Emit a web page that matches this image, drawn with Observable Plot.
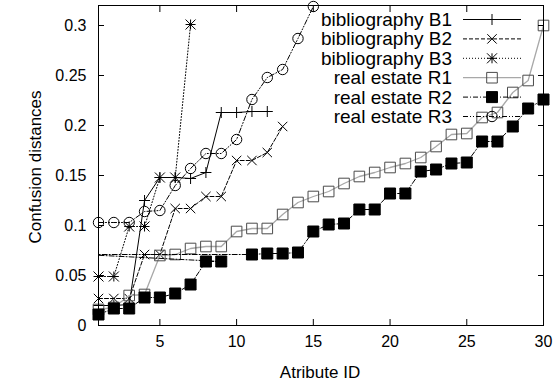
<!DOCTYPE html>
<html>
<head>
<meta charset="utf-8">
<script src="https://cdn.jsdelivr.net/npm/d3@7"></script>
<script src="https://cdn.jsdelivr.net/npm/@observablehq/plot@0.6"></script>
<style>
  body { margin: 0; background: #fff; }
  #chart svg { display: block; }
</style>
</head>
<body>
<div id="chart"></div>
<script>
// Tick values
const xTicks = [5, 10, 15, 20, 25, 30];
const yTicks = [0, 0.05, 0.1, 0.15, 0.2, 0.25, 0.3];

// Bibliography series: attribute ID -> confusion distance
const b1Ids = [1, 2, 3, 4, 5, 6, 7, 8, 9, 10, 11, 12];
const b1Values = [0.020, 0.020, 0.021, 0.125, 0.148, 0.148, 0.147, 0.153, 0.213, 0.213, 0.214, 0.214];

const b2Ids = [1, 2, 3, 4, 5, 6, 7, 8, 9, 10, 11, 12, 13];
const b2Values = [0.027, 0.027, 0.027, 0.071, 0.071, 0.117, 0.117, 0.129, 0.129, 0.165, 0.165, 0.173, 0.199];

const b3Ids = [1, 2, 3, 4, 5, 6, 7];
const b3Values = [0.049, 0.049, 0.099, 0.099, 0.148, 0.148, 0.301];

// Real estate series
const r1Ids = [1, 2, 3, 4, 5, 6, 7, 8, 9, 10, 11, 12, 13, 14, 15, 16, 17, 18, 19, 20, 21, 22, 23, 24, 25, 26, 27, 28, 29, 30];
const r1Values = [0.016, 0.018, 0.030, 0.031, 0.070, 0.071, 0.077, 0.079, 0.079, 0.094, 0.097, 0.097, 0.111, 0.123, 0.129,
                  0.134, 0.142, 0.149, 0.153, 0.158, 0.162, 0.168, 0.179, 0.191, 0.192, 0.208, 0.213, 0.233, 0.245, 0.300];

// R2 row order as stored in its data file (one entry carries ID 0, outside the plotted range)
const r2Ids = [1, 2, 3, 4, 5, 6, 7, 8, 9, 0, 11, 12, 13, 14, 15, 16, 17, 18, 19, 20, 21, 22, 23, 24, 25, 26, 27, 28, 29, 30];
const r2Values = [0.011, 0.017, 0.017, 0.028, 0.028, 0.032, 0.041, 0.064, 0.064, 0.071, 0.071, 0.072, 0.072, 0.073, 0.094,
                  0.101, 0.102, 0.116, 0.116, 0.132, 0.132, 0.154, 0.156, 0.162, 0.163, 0.184, 0.184, 0.199, 0.217, 0.226];

const r3Ids = [1, 2, 3, 4, 5, 6, 7, 8, 9, 10, 11, 12, 13, 14, 15];
const r3Values = [0.103, 0.103, 0.103, 0.114, 0.115, 0.140, 0.157, 0.172, 0.172, 0.186, 0.226, 0.248, 0.256, 0.287, 0.319];

// gnuplot-like point symbols; r is the half extent
const rOf = (size) => Math.sqrt(size / Math.PI);
const symPlus = { draw(c, s) { const r = rOf(s); c.moveTo(-r, 0); c.lineTo(r, 0); c.moveTo(0, -r); c.lineTo(0, r); } };
const symTimes = { draw(c, s) { const r = rOf(s); c.moveTo(-r, -r); c.lineTo(r, r); c.moveTo(-r, r); c.lineTo(r, -r); } };
const symStar = { draw(c, s) { const r = rOf(s); c.moveTo(-r, 0); c.lineTo(r, 0); c.moveTo(0, -r); c.lineTo(0, r);
                               c.moveTo(-r, -r); c.lineTo(r, r); c.moveTo(-r, r); c.lineTo(r, -r); } };
const symSquare = { draw(c, s) { const r = rOf(s); c.rect(-r, -r, 2 * r, 2 * r); } };
const symCircle = { draw(c, s) { const r = rOf(s); c.moveTo(r, 0); c.arc(0, 0, r, 0, 2 * Math.PI); } };

const series = [
  { name: "bibliography B1", ids: b1Ids, values: b1Values, stroke: "#000", width: 1, dash: null, symbol: symPlus, r: 5.5, fill: "none", mark: "#000" },
  { name: "bibliography B2", ids: b2Ids, values: b2Values, stroke: "#000", width: 1, dash: "4,2", symbol: symTimes, r: 4.7, fill: "none", mark: "#000" },
  { name: "bibliography B3", ids: b3Ids, values: b3Values, stroke: "#000", width: 1, dash: "1,2", symbol: symStar, r: 5, fill: "none", mark: "#000" },
  { name: "real estate R1", ids: r1Ids, values: r1Values, stroke: "#a8a8a8", width: 1.3, dash: null, symbol: symSquare, r: 5.3, fill: "none", mark: "#4a4a4a" },
  { name: "real estate R2", ids: r2Ids, values: r2Values, stroke: "#000", width: 1, dash: "5,2,1,2", symbol: symSquare, r: 5.5, fill: "#000", mark: "#000" },
  { name: "real estate R3", ids: r3Ids, values: r3Values, stroke: "#000", width: 1, dash: "5,2,1,2,1,2", symbol: symCircle, r: 5.2, fill: "none", mark: "#000" }
];

const xDomain = [1, 30];
const yDomain = [0, 0.32];

const marks = [];
for (const s of series) {
  const rows = s.ids.map((id, i) => ({ id, value: s.values[i] }));
  marks.push(Plot.line(rows, {
    x: "id", y: "value", stroke: s.stroke, strokeWidth: s.width,
    strokeDasharray: s.dash, clip: true, curve: "linear"
  }));
  marks.push(Plot.dot(rows.filter(d => d.id >= xDomain[0] && d.id <= xDomain[1]), {
    x: "id", y: "value", symbol: s.symbol, r: s.r,
    fill: s.fill, stroke: s.mark, strokeWidth: 1
  }));
}

const font = "'Liberation Sans', Arial, Helvetica, sans-serif";

const chart = Plot.plot({
  width: 558,
  height: 387,
  marginLeft: 98,
  marginRight: 15,
  marginTop: 5,
  marginBottom: 62,
  style: { fontFamily: font, fontSize: "16px", background: "#fff", color: "#000" },
  x: { domain: xDomain },
  y: { domain: yDomain },
  marks: [
    ...marks,
    Plot.frame({ stroke: "#000", strokeWidth: 1 }),
    // inward ticks on all four sides
    Plot.axisX(xTicks, { anchor: "bottom", tickSize: 6, dy: -6, text: null, label: null }),
    Plot.axisX(xTicks, { anchor: "top", tickSize: 6, dy: 6, text: null, label: null }),
    Plot.axisY(yTicks, { anchor: "left", tickSize: 6, dx: 6, text: null, label: null }),
    Plot.axisY(yTicks, { anchor: "right", tickSize: 6, dx: -6, text: null, label: null }),
    // tick labels
    Plot.axisX(xTicks, { anchor: "bottom", tickSize: 0, tickPadding: 10, label: null, fontSize: 16 }),
    Plot.axisY(yTicks, { anchor: "left", tickSize: 0, tickPadding: 12, label: null, fontSize: 16, tickFormat: d => String(d) })
  ]
});

document.getElementById("chart").appendChild(chart);

const svg = d3.select(chart);

// axis titles
svg.append("text")
  .attr("x", 320).attr("y", 372)
  .attr("text-anchor", "middle").attr("dominant-baseline", "central")
  .style("font-family", font).style("font-size", "17px")
  .text("Atribute ID");
svg.append("text")
  .attr("transform", "translate(35,167) rotate(-90)")
  .attr("text-anchor", "middle").attr("dominant-baseline", "central")
  .style("font-family", font).style("font-size", "17px")
  .text("Confusion distances");

// key, top right inside the frame
const key = svg.append("g").style("font-family", font).style("font-size", "19px");
const keyTop = 19.5, keyStep = 19.4, keyTextX = 452, keyLine = [463, 521], keyMark = 492;
series.forEach((s, i) => {
  const y = keyTop + i * keyStep;
  key.append("text").attr("x", keyTextX).attr("y", y)
    .attr("text-anchor", "end").attr("dominant-baseline", "central").text(s.name);
  key.append("line").attr("x1", keyLine[0]).attr("x2", keyLine[1]).attr("y1", y).attr("y2", y)
    .attr("stroke", s.stroke).attr("stroke-width", s.width)
    .attr("stroke-dasharray", s.dash);
  key.append("path")
    .attr("transform", `translate(${keyMark},${y})`)
    .attr("d", d3.symbol(s.symbol, Math.PI * s.r * s.r)())
    .attr("fill", s.fill).attr("stroke", s.mark);
});
</script>
</body>
</html>
